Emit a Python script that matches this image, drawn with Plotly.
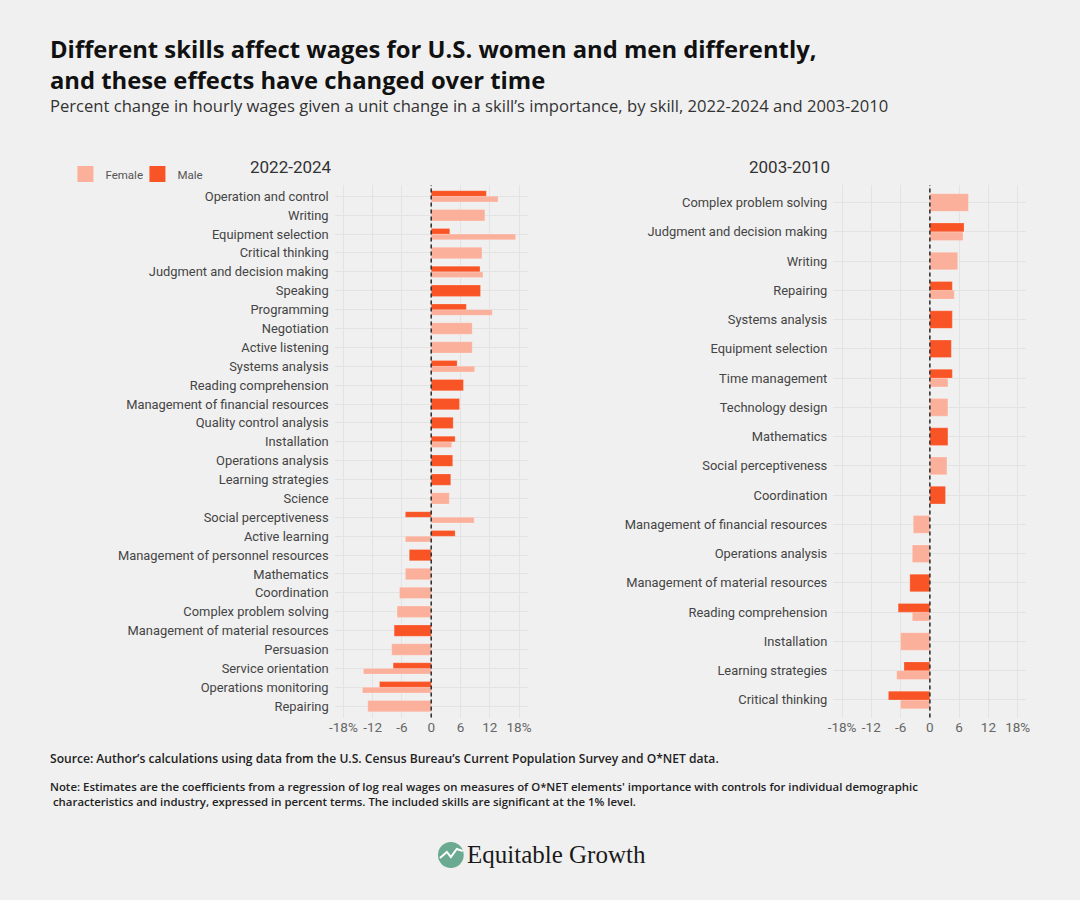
import plotly.graph_objects as go
from plotly.subplots import make_subplots

# 2022-2024 panel (top to bottom)
skills_2224 = ["Operation and control", "Writing", "Equipment selection", "Critical thinking",
               "Judgment and decision making", "Speaking", "Programming", "Negotiation",
               "Active listening", "Systems analysis", "Reading comprehension",
               "Management of financial resources", "Quality control analysis", "Installation",
               "Operations analysis", "Learning strategies", "Science", "Social perceptiveness",
               "Active learning", "Management of personnel resources", "Mathematics",
               "Coordination", "Complex problem solving", "Management of material resources",
               "Persuasion", "Service orientation", "Operations monitoring", "Repairing"]
male_2224 = [11.3, None, 3.8, None, 10.0, 10.1, 7.2, None, None, 5.3, 6.6, 5.8, 4.5, 4.9,
             4.4, 4.0, None, -5.3, 4.9, -4.5, None, None, None, -7.6, None, -7.8, -10.6, None]
female_2224 = [13.7, 11.0, 17.3, 10.4, 10.6, None, 12.5, 8.4, 8.4, 8.9, None, None, None, 4.2,
               None, None, 3.7, 8.8, -5.3, None, -5.3, -6.5, -7.0, None, -8.1, -13.9, -14.1, -13.0]

# 2003-2010 panel (top to bottom)
skills_0310 = ["Complex problem solving", "Judgment and decision making", "Writing", "Repairing",
               "Systems analysis", "Equipment selection", "Time management", "Technology design",
               "Mathematics", "Social perceptiveness", "Coordination",
               "Management of financial resources", "Operations analysis",
               "Management of material resources", "Reading comprehension", "Installation",
               "Learning strategies", "Critical thinking"]
male_0310 = [None, 7.0, None, 4.6, 4.6, 4.4, 4.6, None, 3.7, None, 3.2, None, None, -4.1, -6.5,
             None, -5.3, -8.5]
female_0310 = [7.9, 6.8, 5.7, 5.0, None, None, 3.7, 3.7, None, 3.5, None, -3.4, -3.6, None, -3.6,
               -6.0, -6.8, -6.0]

tick_vals = [-18, -12, -6, 0, 6, 12, 18]
tick_text = ["-18%", "-12", "-6", "0", "6", "12", "18%"]

FEMALE = "#FBB09B"
MALE = "#F95426"
BG = "#F0F0F0"
FONT = "Roboto"
W, H = 1080, 900
BAR_W = 0.6


def dodge(own, other, upper):
    # ggplot-like dodge: full width when alone, half width when paired
    widths, offsets = [], []
    for a, b in zip(own, other):
        if b is None:
            widths.append(BAR_W)
            offsets.append(-BAR_W / 2)
        else:
            widths.append(BAR_W / 2)
            offsets.append(-BAR_W / 2 if upper else 0)
    return widths, offsets


fig = make_subplots(rows=1, cols=2)

panels = [(skills_2224, male_2224, female_2224, 1),
          (skills_0310, male_0310, female_0310, 2)]
for skills, male, female, col in panels:
    wf, of = dodge(female, male, upper=False)
    wm, om = dodge(male, female, upper=True)
    fig.add_trace(go.Bar(y=skills, x=female, orientation="h", width=wf, offset=of,
                         marker=dict(color=FEMALE, line=dict(color="rgba(255,255,255,0.35)", width=0.6)),
                         showlegend=False, name="Female"), row=1, col=col)
    fig.add_trace(go.Bar(y=skills, x=male, orientation="h", width=wm, offset=om,
                         marker=dict(color=MALE, line=dict(color="rgba(255,255,255,0.35)", width=0.6)),
                         showlegend=False, name="Male"), row=1, col=col)

# legend entries with large square keys
fig.add_trace(go.Scatter(x=[None], y=[None], mode="markers", name="Female",
                         marker=dict(symbol="square", size=20, color=FEMALE)), row=1, col=1)
fig.add_trace(go.Scatter(x=[None], y=[None], mode="markers", name="Male",
                         marker=dict(symbol="square", size=20, color=MALE)), row=1, col=1)

y_dom = [1 - 717.5 / H, 1 - 185 / H]
x_doms = [[331.7 / W, 526.7 / W], [835 / W, 1030 / W]]
for i, (skills, _, _, col) in enumerate(panels):
    n = len(skills)
    fig.update_xaxes(domain=x_doms[i], range=[-19.8, 19.8], tickvals=tick_vals, ticktext=tick_text,
                     showgrid=True, gridcolor="#E3E3E3", gridwidth=1, zeroline=False,
                     showline=False, ticks="", tickfont=dict(family=FONT, size=13.5, color="#666"),
                     row=1, col=col)
    fig.update_yaxes(domain=y_dom, type="category", categoryorder="array", categoryarray=skills,
                     range=[n - 0.4, -0.6], showgrid=True, gridcolor="#E3E3E3", gridwidth=1,
                     showline=False, ticks="", ticklabelstandoff=5,
                     tickfont=dict(family=FONT, size=12.9, color="#444"), row=1, col=col)

# dashed zero lines
for xr, yr in [("x", "y"), ("x2", "y2")]:
    fig.add_shape(type="line", xref=xr, yref=yr + " domain", x0=0, x1=0, y0=0, y1=1,
                  line=dict(color="#333", width=1.6, dash="4px,3px"), layer="above")

ann = []
ann.append(dict(text="<b>Different skills affect wages for U.S. women and men differently,<br>"
                     "and these effects have changed over time</b>",
                x=42 / W, y=1 - 31 / H, xanchor="left", yanchor="top", align="left",
                font=dict(family="Open Sans", size=23.8, color="#111")))
ann.append(dict(text="Percent change in hourly wages given a unit change in a skill\u2019s importance, "
                     "by skill, 2022-2024 and 2003-2010",
                x=42 / W, y=1 - 106 / H, xanchor="left", yanchor="middle", align="left",
                font=dict(family="Open Sans", size=16.6, color="#333")))
ann.append(dict(text="2022-2024", x=288 / W, y=1 - 167 / H, xanchor="center", yanchor="middle",
                font=dict(family=FONT, size=17, color="#333")))
ann.append(dict(text="2003-2010", x=791 / W, y=1 - 167 / H, xanchor="center", yanchor="middle",
                font=dict(family=FONT, size=17, color="#333")))
ann.append(dict(text="Source: Author\u2019s calculations using data from the U.S. Census Bureau\u2019s "
                     "Current Population Survey and O*NET data.",
                x=42 / W, y=1 - 758 / H, xanchor="left", yanchor="middle", align="left",
                font=dict(family="Open Sans", size=12.1, color="#222", weight=600)))
ann.append(dict(text="Note: Estimates are the coefficients from a regression of log real wages on "
                     "measures of O*NET elements' importance with controls for individual demographic<br>"
                     "\u00a0characteristics and industry, expressed in percent terms. The included skills "
                     "are significant at the 1% level.",
                x=42 / W, y=1 - 794 / H, xanchor="left", yanchor="middle", align="left",
                font=dict(family="Open Sans", size=11.4, color="#222", weight=600)))
ann.append(dict(text="Equitable Growth", x=463 / W, y=1 - 854 / H, xanchor="left", yanchor="middle",
                font=dict(family="Liberation Serif", size=25, color="#1a1a1a")))
for a in ann:
    a.update(xref="paper", yref="paper", showarrow=False)

# logo mark
fig.add_shape(type="circle", xref="paper", yref="paper",
              x0=436 / W, x1=462 / W, y0=1 - 868 / H, y1=1 - 842 / H,
              fillcolor="#6AAA91", line=dict(width=0))
fig.add_shape(type="path", xref="paper", yref="paper",
              path="M %f,%f L %f,%f L %f,%f L %f,%f L %f,%f" % (
                  438 / W, 1 - 858 / H, 445 / W, 1 - 852 / H, 449 / W, 1 - 857 / H,
                  455 / W, 1 - 849 / H, 461 / W, 1 - 851 / H),
              line=dict(color="white", width=2))

fig.update_layout(
    width=W, height=H, margin=dict(l=0, r=0, t=0, b=0),
    paper_bgcolor=BG, plot_bgcolor=BG, barmode="overlay",
    annotations=ann,
    legend=dict(orientation="h", x=60 / W, y=1 - 174 / H, xanchor="left", yanchor="middle",
                font=dict(family=FONT, size=11.5, color="#555"), bgcolor="rgba(0,0,0,0)",
                itemwidth=30, entrywidth=27, entrywidthmode="pixels"),
)

fig.write_html("out.html", config={"displayModeBar": False},
               post_script="document.body.style.margin='0';document.body.style.overflow='hidden';")
